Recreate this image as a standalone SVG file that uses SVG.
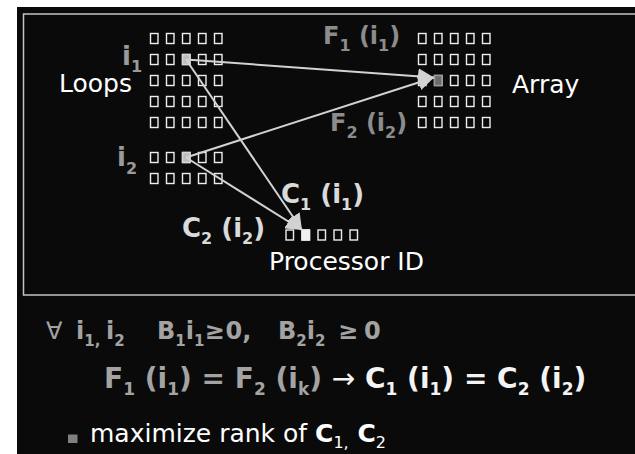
<svg xmlns="http://www.w3.org/2000/svg" xmlns:xlink="http://www.w3.org/1999/xlink" width="635" height="454" viewBox="0 0 635 454">
<style>
.sq{fill:none;stroke:#eeeeee;stroke-width:1.4}
.b{font-family:"DejaVu Sans","Liberation Sans",sans-serif;font-weight:bold}
.r{font-family:"DejaVu Sans","Liberation Sans",sans-serif;font-weight:normal}
.lbl{fill:#ffffff;font-size:25px}
.grey{fill:#a3a3a3}
.dim{fill:#8c8c8c}
.lite{fill:#dadada}
.wht{fill:#f4f4f4}
.conn line{stroke:#d2d2d2;stroke-width:2;marker-end:url(#ah)}
</style>
<defs>
<marker id="ah" markerUnits="userSpaceOnUse" markerWidth="17" markerHeight="16" refX="16" refY="8" orient="auto">
<path d="M0,0 L16,8 L0,16 z" fill="#d2d2d2"/>
</marker>
<g id="row5">
<rect class="sq" x="0" y="0" width="7.5" height="10"/>
<rect class="sq" x="16" y="0" width="7.5" height="10"/>
<rect class="sq" x="32" y="0" width="7.5" height="10"/>
<rect class="sq" x="48" y="0" width="7.5" height="10"/>
<rect class="sq" x="64" y="0" width="7.5" height="10"/>
</g>
</defs>
<rect x="0" y="0" width="635" height="454" fill="#ffffff"/>
<rect x="17" y="7" width="618" height="447" fill="#0a0a0a"/>
<rect x="23.5" y="14" width="620" height="281" fill="none" stroke="#c4c4c4" stroke-width="1.5"/>

<g id="loops-grid">
<use xlink:href="#row5" x="150.5" y="33.5"/>
<use xlink:href="#row5" x="150.5" y="54.5"/>
<use xlink:href="#row5" x="150.5" y="75.5"/>
<use xlink:href="#row5" x="150.5" y="96.5"/>
<use xlink:href="#row5" x="150.5" y="117.5"/>
<rect x="182.5" y="54.5" width="7.5" height="10" fill="#bdbdbd" stroke="#d8d8d8" stroke-width="1.4"/>
</g>
<g id="i2-grid">
<use xlink:href="#row5" x="150.5" y="152.5"/>
<use xlink:href="#row5" x="150.5" y="173.5"/>
<rect x="182.5" y="152.5" width="7.5" height="10" fill="#bdbdbd" stroke="#d8d8d8" stroke-width="1.4"/>
</g>
<g id="array-grid">
<use xlink:href="#row5" x="418.5" y="33.5"/>
<use xlink:href="#row5" x="418.5" y="54.5"/>
<use xlink:href="#row5" x="418.5" y="75.5"/>
<use xlink:href="#row5" x="418.5" y="96.5"/>
<use xlink:href="#row5" x="418.5" y="117.5"/>
<rect x="434.5" y="75.5" width="7.5" height="10" fill="#6b6b6b" stroke="#9a9a9a" stroke-width="1.4"/>
</g>
<g id="proc-row">
<use xlink:href="#row5" x="286" y="230"/>
<rect x="302" y="230" width="7.5" height="10" fill="#f0f0f0" stroke="#f0f0f0" stroke-width="1.4"/>
</g>

<g id="connectors" class="conn">
<line x1="186" y1="59.5" x2="434" y2="77.5"/>
<line x1="186" y1="157.5" x2="434" y2="77.5"/>
<line x1="186" y1="59.5" x2="302" y2="230"/>
<line x1="186" y1="157.5" x2="302" y2="230"/>
</g>

<g id="label-loops"><text class="r lbl" x="59" y="92" font-size="24.5">Loops</text></g>
<g id="label-array"><text class="r lbl" x="512" y="93" font-size="24">Array</text></g>
<g id="label-proc"><text class="r lbl" x="269" y="270">Processor ID</text></g>

<g id="label-i1"><text class="b" fill="#9a9a9a" font-size="26" x="122" y="65">i<tspan font-size="16" y="72">1</tspan></text></g>
<g id="label-i2"><text class="b" fill="#9a9a9a" font-size="26" x="117" y="166">i<tspan font-size="16" y="174">2</tspan></text></g>
<g id="label-f1"><text class="b dim" font-size="24" x="323" y="44">F<tspan font-size="16" y="51">1</tspan><tspan y="44"> (i</tspan><tspan font-size="16" y="51">1</tspan><tspan y="44">)</tspan></text></g>
<g id="label-f2"><text class="b dim" font-size="24" x="330" y="131">F<tspan font-size="16" y="138">2</tspan><tspan y="131"> (i</tspan><tspan font-size="16" y="138">2</tspan><tspan y="131">)</tspan></text></g>
<g id="label-c1"><text class="b lite" font-size="26" x="281" y="203">C<tspan font-size="16" y="210">1</tspan><tspan y="203"> (i</tspan><tspan font-size="16" y="210">1</tspan><tspan y="203">)</tspan></text></g>
<g id="label-c2"><text class="b lite" font-size="26" x="182" y="237">C<tspan font-size="16" y="244">2</tspan><tspan y="237"> (i</tspan><tspan font-size="16" y="244">2</tspan><tspan y="237">)</tspan></text></g>

<g id="line1">
<text class="b grey" font-size="24" y="339"><tspan class="r" x="46">∀</tspan><tspan x="76">i</tspan><tspan font-size="15" y="346">1,</tspan><tspan x="106" y="339">i</tspan><tspan font-size="15" y="346">2</tspan><tspan x="157" y="339">B</tspan><tspan font-size="15" y="346">1</tspan><tspan y="339">i</tspan><tspan font-size="15" y="346">1</tspan><tspan y="339">≥</tspan><tspan dx="1">0,</tspan><tspan x="278">B</tspan><tspan font-size="15" y="346">2</tspan><tspan y="339">i</tspan><tspan font-size="15" y="346">2</tspan><tspan x="338" y="339">≥</tspan><tspan x="364">0</tspan></text>
</g>

<g id="line2">
<text class="b" font-size="28" x="104" y="388"><tspan class="grey">F</tspan><tspan class="grey" font-size="17" y="395">1</tspan><tspan class="grey" y="388"> (i</tspan><tspan class="grey" font-size="17" y="395">1</tspan><tspan class="grey" y="388">) = F</tspan><tspan class="grey" font-size="17" y="395">2</tspan><tspan class="grey" y="388"> (i</tspan><tspan class="grey" font-size="17" y="395">k</tspan><tspan class="grey" y="388">) </tspan><tspan class="wht r">→</tspan><tspan class="wht"> C</tspan><tspan class="wht" font-size="17" y="395">1</tspan><tspan class="wht" y="388"> (i</tspan><tspan class="wht" font-size="17" y="395">1</tspan><tspan class="wht" y="388">) = C</tspan><tspan class="wht" font-size="17" y="395">2</tspan><tspan class="wht" y="388"> (i</tspan><tspan class="wht" font-size="17" y="395">2</tspan><tspan class="wht" y="388">)</tspan></text>
</g>

<g id="bullet">
<rect x="68" y="434.5" width="9.5" height="8.5" fill="#7f7f7f"/>
<text class="r" fill="#ffffff" font-size="25" x="90" y="442">maximize rank of <tspan class="b">C</tspan><tspan font-size="16" y="448">1,</tspan><tspan class="b" y="442"> C</tspan><tspan font-size="16" y="448">2</tspan></text>
</g>
</svg>
